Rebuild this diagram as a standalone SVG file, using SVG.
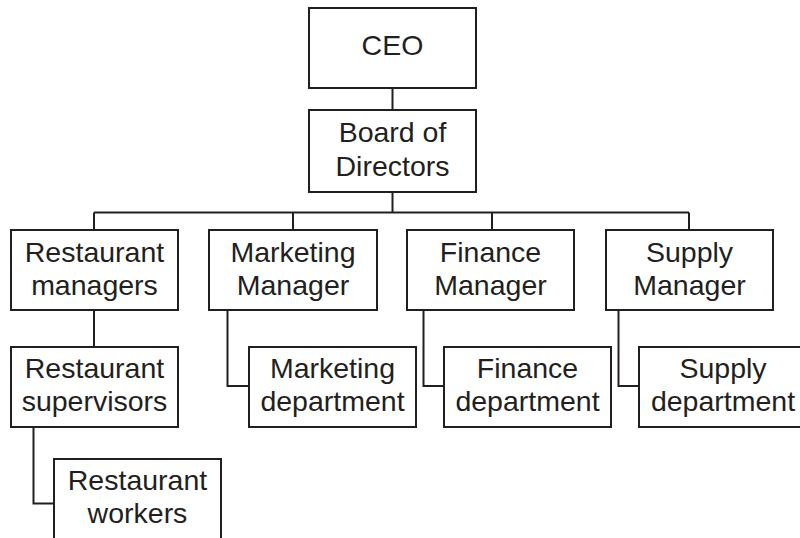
<svg xmlns="http://www.w3.org/2000/svg" width="800" height="538" viewBox="0 0 800 538">
<style>
.box{fill:#fff;stroke:#231f20;stroke-width:2}
.ln{fill:none;stroke:#231f20;stroke-width:2}
text{font-family:"Liberation Sans",Arial,sans-serif;font-size:28.5px;fill:#231f20;text-anchor:middle}
</style>
<rect width="800" height="538" fill="#fff"/>
<g id="connectors">
<path class="ln" d="M392.5 88V110M392.5 192V212.5M94 212.5H689M94 212.5V230M293 212.5V230M492 212.5V230M689 212.5V230"/>
<path class="ln" d="M94 310V347"/>
<path class="ln" d="M33.5 427V503.5H54"/>
<path class="ln" d="M227.5 310V386H249"/>
<path class="ln" d="M423.5 310V386H444"/>
<path class="ln" d="M618.5 310V386H639"/>
</g>
<g id="ceo"><rect class="box" x="309" y="8" width="167" height="80"/><text x="392.5" y="55">CEO</text></g>
<g id="board"><rect class="box" x="309" y="110" width="167" height="82"/><text x="392.5" y="142">Board of</text><text x="392.5" y="176">Directors</text></g>
<g id="rest-managers"><rect class="box" x="11" y="230" width="167" height="80"/><text x="94.5" y="262">Restaurant</text><text x="94.5" y="295">managers</text></g>
<g id="marketing-manager"><rect class="box" x="209" y="230" width="168" height="80"/><text x="293" y="262">Marketing</text><text x="293" y="295">Manager</text></g>
<g id="finance-manager"><rect class="box" x="407" y="230" width="167" height="80"/><text x="490.5" y="262">Finance</text><text x="490.5" y="295">Manager</text></g>
<g id="supply-manager"><rect class="box" x="606" y="230" width="167" height="80"/><text x="689.5" y="262">Supply</text><text x="689.5" y="295">Manager</text></g>
<g id="rest-supervisors"><rect class="box" x="11" y="347" width="167" height="80"/><text x="94.5" y="378">Restaurant</text><text x="94.5" y="411">supervisors</text></g>
<g id="marketing-dept"><rect class="box" x="249" y="347" width="167" height="80"/><text x="332.5" y="378">Marketing</text><text x="332.5" y="411">department</text></g>
<g id="finance-dept"><rect class="box" x="444" y="347" width="167" height="80"/><text x="527.5" y="378">Finance</text><text x="527.5" y="411">department</text></g>
<g id="supply-dept"><rect class="box" x="639" y="347" width="168" height="80"/><text x="723" y="378">Supply</text><text x="723" y="411">department</text></g>
<g id="rest-workers"><rect class="box" x="54" y="459" width="167" height="100"/><text x="137.5" y="490">Restaurant</text><text x="137.5" y="523">workers</text></g>
</svg>
